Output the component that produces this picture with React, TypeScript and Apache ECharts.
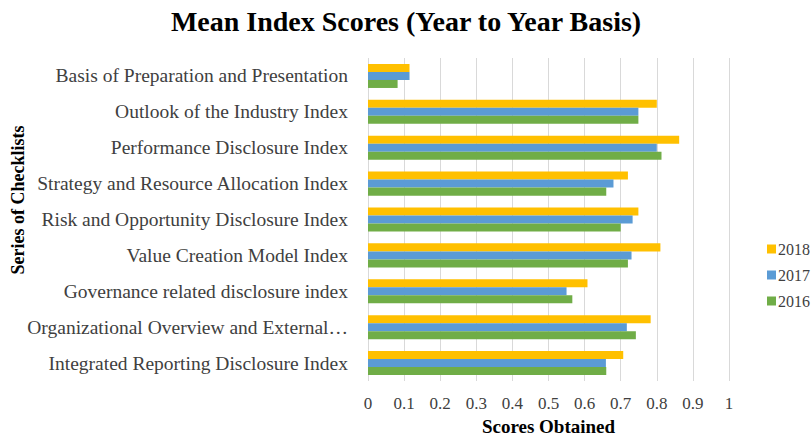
import React, { useEffect, useRef } from "react";
import * as echarts from "echarts";

const categories = [
  "Integrated Reporting Disclosure Index",
  "Organizational Overview and External…",
  "Governance related disclosure index",
  "Value Creation Model Index",
  "Risk and Opportunity Disclosure Index",
  "Strategy and Resource Allocation Index",
  "Performance Disclosure Index",
  "Outlook of the Industry Index",
  "Basis of Preparation and Presentation",
];

const values2016 = [0.66, 0.742, 0.566, 0.72, 0.70, 0.66, 0.813, 0.749, 0.082];
const values2017 = [0.659, 0.717, 0.55, 0.73, 0.733, 0.68, 0.80, 0.749, 0.115];
const values2018 = [0.707, 0.783, 0.608, 0.81, 0.749, 0.72, 0.862, 0.80, 0.115];

const xTicks = [0, 0.1, 0.2, 0.3, 0.4, 0.5, 0.6, 0.7, 0.8, 0.9, 1];

const FONT = "Liberation Serif";

export default function App() {
  const ref = useRef<HTMLDivElement>(null);
  useEffect(() => {
    if (!ref.current) return;
    const chart = echarts.init(ref.current, null, { renderer: "svg" });
    chart.setOption({
      animation: false,
      backgroundColor: "#ffffff",
      textStyle: { fontFamily: FONT },
      title: {
        text: "Mean Index Scores (Year to Year Basis)",
        left: "center",
        top: 2,
        textStyle: { fontFamily: FONT, fontSize: 28, fontWeight: "bold", color: "#000" },
      },
      legend: {
        data: ["2018", "2017", "2016"],
        orient: "vertical",
        left: 762,
        top: 236,
        itemWidth: 9,
        itemHeight: 9,
        itemGap: 10,
        icon: "rect",
        textStyle: { fontFamily: FONT, fontSize: 16, color: "#404040", padding: [0, 0, 0, -3] },
      },
      graphic: [
        {
          type: "text",
          x: 18,
          y: 200,
          rotation: Math.PI / 2,
          style: {
            text: "Series of Checklists",
            fontFamily: FONT,
            fontSize: 18,
            fontWeight: "bold",
            fill: "#000",
            align: "center",
            verticalAlign: "middle",
          },
        },
      ],
      grid: { left: 368, right: 83, top: 58, bottom: 49, containLabel: false },
      xAxis: {
        type: "value",
        min: 0,
        max: 1,
        interval: 0.1,
        name: "Scores Obtained",
        nameLocation: "middle",
        nameGap: 36,
        nameTextStyle: { fontFamily: FONT, fontSize: 19, fontWeight: "bold", color: "#000" },
        axisLine: { show: false },
        axisTick: { show: false },
        axisLabel: {
          fontFamily: FONT,
          fontSize: 17,
          color: "#404040",
          margin: 14,
          formatter: (v: number) => {
            const t = xTicks.find((x) => Math.abs(x - v) < 1e-6);
            return t === undefined ? "" : String(t);
          },
        },
        splitLine: { show: true, lineStyle: { color: "#d9d9d9", width: 1 } },
      },
      yAxis: {
        type: "category",
        data: categories,
        axisLine: { show: false },
        axisTick: { show: false },
        axisLabel: { fontFamily: FONT, fontSize: 19.5, color: "#404040", margin: 20 },
        splitLine: { show: false },
      },
      series: [
        {
          name: "2018",
          type: "bar",
          data: values2018,
          itemStyle: { color: "#FFC000" },
          barGap: "0%",
          barCategoryGap: "33%",
        },
        {
          name: "2017",
          type: "bar",
          data: values2017,
          itemStyle: { color: "#5B9BD5" },
          barGap: "0%",
          barCategoryGap: "33%",
        },
        {
          name: "2016",
          type: "bar",
          data: values2016,
          itemStyle: { color: "#70AD47" },
          barGap: "0%",
          barCategoryGap: "33%",
        },
      ],
    });
    return () => chart.dispose();
  }, []);
  return (
    <div
      ref={ref}
      style={{ position: "fixed", left: 0, top: 0, width: 812, height: 441 }}
    />
  );
}
